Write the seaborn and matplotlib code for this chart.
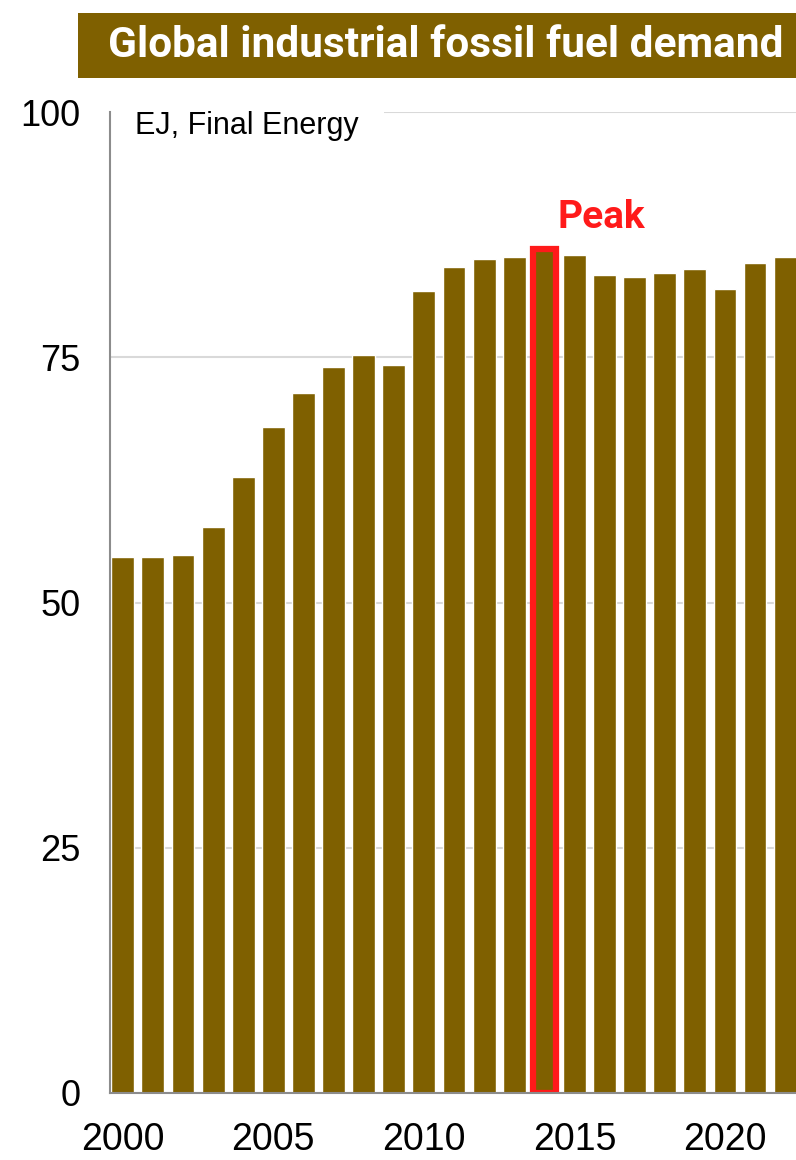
import matplotlib
matplotlib.use("Agg")
import matplotlib.pyplot as plt
from matplotlib.patches import Rectangle
import seaborn as sns
import pandas as pd

# Data (EJ, final energy)
years = list(range(2000, 2023))
demand = [54.6, 54.6, 54.8, 57.7, 62.8, 67.9, 71.4, 74.0, 75.2, 74.2,
          81.8, 84.2, 85.0, 85.2, 86.0, 85.4, 83.4, 83.2, 83.6, 84.0,
          82.0, 84.6, 85.2]
peak_year = 2014
tick_years = [2000, 2005, 2010, 2015, 2020]
y_ticks = [0, 25, 50, 75, 100]

bar_color = "#7f6000"
peak_color = "#ff1a1a"

df = pd.DataFrame({"Year": [str(y) for y in years], "EJ": demand})

sns.set_style("white")
plt.rcParams["font.family"] = ["Liberation Sans", "DejaVu Sans"]
plt.rcParams["text.color"] = "black"
plt.rcParams["xtick.color"] = "black"
plt.rcParams["ytick.color"] = "black"

fig = plt.figure(figsize=(7.96, 11.6), dpi=100)
ax = fig.add_axes([0.138, 0.0578, 0.862, 0.8456])

sns.barplot(data=df, x="Year", y="EJ", color=bar_color, saturation=1,
            width=0.76, ax=ax, zorder=2)

# highlight the peak bar
peak_idx = years.index(peak_year)
ax.patches[peak_idx].set_edgecolor(peak_color)
ax.patches[peak_idx].set_linewidth(4.5)

ax.set_ylim(0, 100)
ax.set_xlim(-0.43, 22.36)
ax.set_yticks(y_ticks)
ax.set_yticklabels([str(v) for v in y_ticks], fontsize=26)
ax.set_xticks([years.index(y) for y in tick_years])
ax.set_xticklabels([str(y) for y in tick_years], fontsize=27)
ax.tick_params(axis="y", length=0, pad=21)
ax.tick_params(axis="x", length=0, pad=21)
ax.set_xlabel("")
ax.set_ylabel("")

ax.yaxis.grid(True, color="#d9d9d9", linewidth=1.5, zorder=0)
ax.set_axisbelow(True)
for side in ["top", "right"]:
    ax.spines[side].set_visible(False)
for side in ["left", "bottom"]:
    ax.spines[side].set_color("#8c8c8c")
    ax.spines[side].set_linewidth(1.5)
    ax.spines[side].set_zorder(5)

ax.text(0.4, 98.6, "EJ, Final Energy", fontsize=22, ha="left", va="center",
        zorder=3, bbox=dict(facecolor="white", edgecolor="none", pad=18))

ax.text(peak_idx + 0.43, 89.3, "Peak", fontsize=28, fontweight="bold",
        family=["Roboto", "DejaVu Sans"], color=peak_color,
        ha="left", va="center")

# title banner
fig.patches.append(Rectangle((0.098, 0.9328), 0.91, 0.056,
                             transform=fig.transFigure, facecolor=bar_color,
                             edgecolor="none"))
fig.text(0.56, 0.9605, "Global industrial fossil fuel demand", fontsize=30.5,
         fontweight="bold", family=["Roboto", "DejaVu Sans"], color="white",
         ha="center", va="center")

fig.savefig("out.png", dpi=100)
